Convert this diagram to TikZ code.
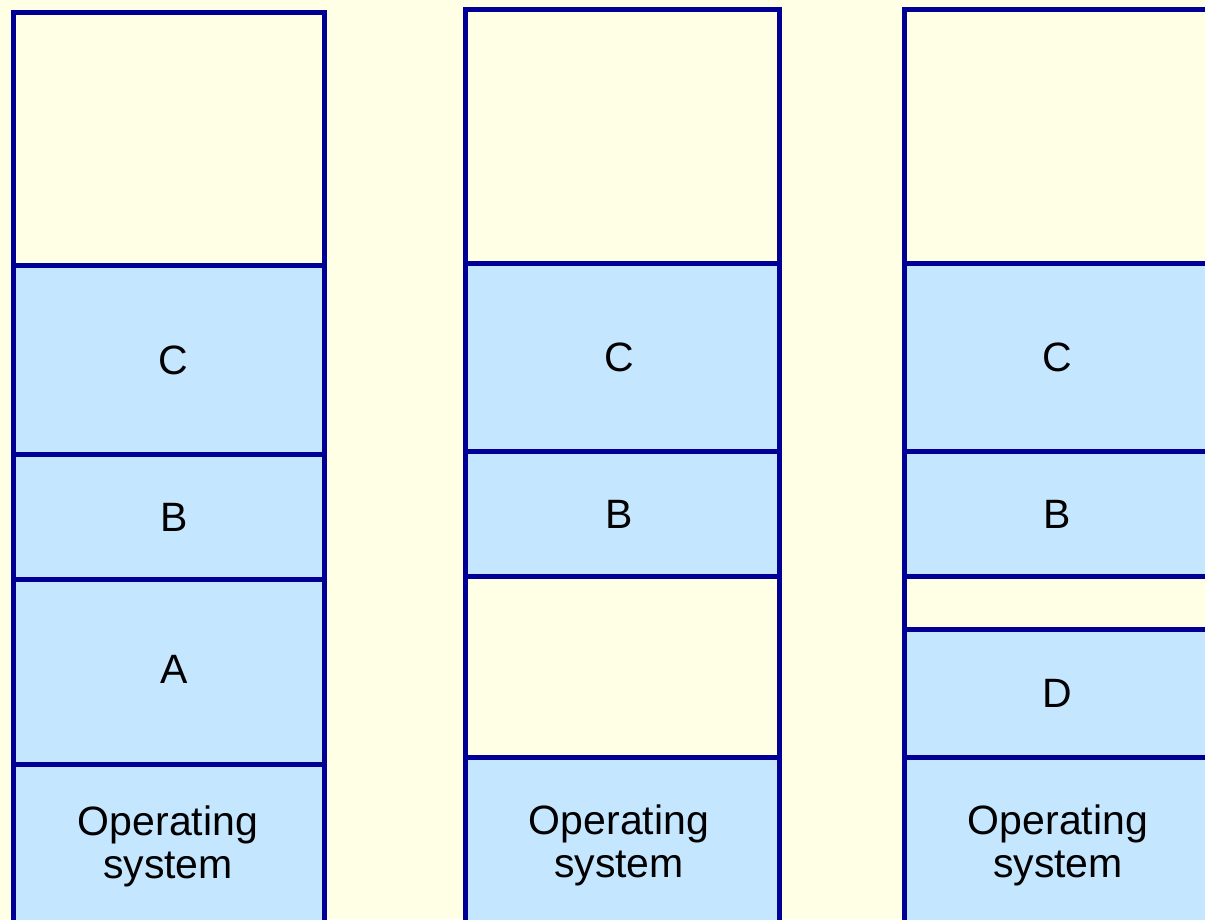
\documentclass[tikz,border=0pt]{standalone}
\usepackage{fontspec}
\setmainfont{Liberation Sans}
\definecolor{bg}{RGB}{255,255,230}
\definecolor{mem}{RGB}{196,230,255}
\definecolor{edge}{RGB}{0,0,150}
\begin{document}
\begin{tikzpicture}[x=1pt,y=-1pt,
  seg/.style={draw=edge, line width=5pt, anchor=north west, inner sep=0pt, outer sep=0pt},
  used/.style={seg, fill=mem},
  free/.style={seg, fill=bg},
  lbl/.style={font=\fontsize{41}{43}\selectfont, align=center, inner sep=0pt}]
\fill[bg] (0,0) rectangle (1205,919);
\useasboundingbox (0,0) rectangle (1205,919);
\clip (0,0) rectangle (1205,919);
% column 1
\node[free, minimum width=310.5pt, minimum height=253pt] (f1) at (13.5,12.5) {};
\node[used, minimum width=310.5pt, minimum height=189pt] (c1) at (13.5,265.5) {};
\node[used, minimum width=310.5pt, minimum height=125pt] (b1) at (13.5,454.5) {};
\node[used, minimum width=310.5pt, minimum height=185pt] (a1) at (13.5,579.5) {};
\node[used, minimum width=310.5pt, minimum height=180pt] (o1) at (13.5,764.5) {};
\node[lbl] (lc1) at ([xshift=5pt]c1.center) {C};
\node[lbl] (lb1) at ([xshift=5pt]b1.center) {B};
\node[lbl] (la1) at ([xshift=5pt,yshift=3pt]a1.center) {A};
\node[lbl] (t1) at (168,846) {Operating\\system};
% column 2
\node[free, minimum width=313.5pt, minimum height=254pt] (f2) at (465.5,9.5) {};
\node[used, minimum width=313.5pt, minimum height=188pt] (c2) at (465.5,263.5) {};
\node[used, minimum width=313.5pt, minimum height=125pt] (b2) at (465.5,451.5) {};
\node[free, minimum width=313.5pt, minimum height=181pt] (g2) at (465.5,576.5) {};
\node[used, minimum width=313.5pt, minimum height=185pt] (o2) at (465.5,757.5) {};
\node[lbl] (lc2) at ([xshift=-3pt]c2.center) {C};
\node[lbl] (lb2) at ([xshift=-3pt]b2.center) {B};
\node[lbl] (t2) at (619,845) {Operating\\system};
% column 3
\node[free, minimum width=314pt, minimum height=253.5pt] (f3) at (904.5,9.5) {};
\node[used, minimum width=314pt, minimum height=188.5pt] (c3) at (904.5,263) {};
\node[used, minimum width=314pt, minimum height=125pt] (b3) at (904.5,451.5) {};
\node[free, minimum width=314pt, minimum height=53pt] (g3) at (904.5,576.5) {};
\node[used, minimum width=314pt, minimum height=127.5pt] (d3) at (904.5,629.5) {};
\node[used, minimum width=314pt, minimum height=185pt] (o3) at (904.5,757) {};
\node[lbl] (lc3) at ([xshift=-4pt]c3.center) {C};
\node[lbl] (lb3) at ([xshift=-4pt]b3.center) {B};
\node[lbl] (ld3) at ([xshift=-4pt]d3.center) {D};
\node[lbl] (t3) at (1058,845) {Operating\\system};
\end{tikzpicture}
\end{document}
